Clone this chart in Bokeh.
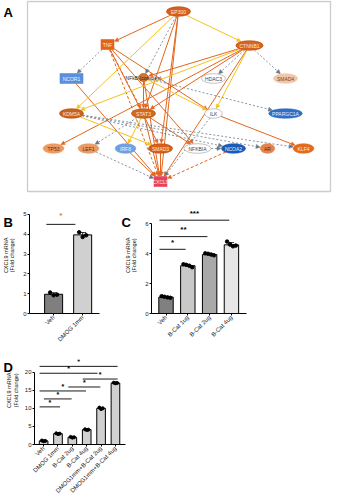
import math
from bokeh.plotting import figure
from bokeh.models import Range1d, FixedTicker, BoxAnnotation, Arrow, NormalHead, ColumnDataSource
from bokeh.layouts import column, row
from bokeh.embed import file_html
from bokeh.resources import INLINE
from bokeh.core.properties import value

FONT = "Liberation Sans"

# ---------------- Panel A: network data ----------------
node_names = ["EP300", "TNF", "CTNNB1", "NCOR1", "NFkB (complex)", "HDAC3", "SMAD4",
              "KDM5A", "STAT3", "ILK", "PPARGC1A",
              "TP53", "LEF1", "IRF8", "SMAD3", "NFKBIA", "NCOA2", "AR", "KLF4", "CXCL9"]
node_x = [178, 107, 249, 71, 143, 213, 285, 71, 143, 213, 285,
          53, 88, 125, 160, 197, 233, 267, 303, 160]
node_y = [11, 44, 45, 78, 77, 78, 78, 113, 113, 113, 113,
          148, 148, 148, 148, 148, 148, 148, 148, 181]
node_kind = ["ellipse", "rect", "ellipse", "rect", "small", "ellipse", "ellipse",
             "ellipse", "ellipse", "ellipse", "ellipse",
             "ellipse", "ellipse", "ellipse", "ellipse", "ellipse", "ellipse", "ellipse", "ellipse", "rect"]
node_fill = ["#d8601a", "#e0641c", "#d8651f", "#5b8fdc", "#d9732e", "#ffffff", "#f2c6a8",
             "#c8631f", "#d2691e", "#ffffff", "#2d6fc4",
             "#eb9a63", "#eb9a63", "#6fa0e0", "#d8601a", "#ffffff", "#1a5bb8", "#e6824a", "#e06b1e", "#e8435a"]
node_text_color = ["#ffe9d9", "#ffe9d9", "#ffe9d9", "#f0f4ff", "#222222", "#444444", "#6b4a35",
                   "#ffe9d9", "#ffe9d9", "#444444", "#e6efff",
                   "#5a2d10", "#5a2d10", "#f0f4ff", "#ffe9d9", "#444444", "#e6efff", "#5a2d10", "#ffe9d9", "#ffe9e9"]

edge_src = ["EP300", "EP300", "EP300", "EP300", "EP300", "EP300", "EP300",
            "TNF", "TNF", "TNF", "TNF", "TNF", "TNF",
            "CTNNB1", "CTNNB1", "CTNNB1", "CTNNB1", "CTNNB1", "CTNNB1", "CTNNB1", "CTNNB1",
            "NCOR1", "NFkB (complex)", "NFkB (complex)", "NFkB (complex)", "NFkB (complex)",
            "KDM5A", "KDM5A", "KDM5A", "KDM5A",
            "STAT3", "STAT3", "STAT3", "STAT3",
            "SMAD3", "ILK", "ILK", "LEF1", "IRF8", "NCOA2", "NFKBIA"]
edge_dst = ["TNF", "NFkB (complex)", "STAT3", "SMAD3", "CXCL9", "CTNNB1", "KDM5A",
            "NCOR1", "STAT3", "SMAD3", "ILK", "CXCL9", "NFKBIA",
            "HDAC3", "SMAD4", "NFkB (complex)", "STAT3", "ILK", "TP53", "CXCL9", "KDM5A",
            "CXCL9", "STAT3", "CXCL9", "PPARGC1A", "ILK",
            "NCOA2", "AR", "KLF4", "SMAD3",
            "IRF8", "LEF1", "CXCL9", "NFKBIA",
            "CXCL9", "KLF4", "CXCL9", "CXCL9", "CXCL9", "CXCL9", "NCOA2"]
edge_type = ["o", "g", "o", "o", "o", "y", "y",
             "g", "od", "o", "o", "od", "o",
             "g", "g", "o", "o", "y", "o", "o", "y",
             "o", "o", "o", "g", "y",
             "g", "g", "g", "y",
             "y", "g", "o", "o",
             "o", "o", "g", "g", "o", "od", "g"]

# ---------------- Panel B data ----------------
B_labels = ["Veh", "DMOG 1mm"]
B_means = [0.97, 3.97]
B_sd = [0.08, 0.12]
B_points = [[1.06, 0.92, 0.95], [4.1, 3.86, 3.95]]
B_sig = [(1, 2, 4.5, "*")]

# ---------------- Panel C data ----------------
C_labels = ["Veh", "B-Cat 1ug", "B-Cat 2ug", "B-Cat 4ug"]
C_means = [1.1, 3.2, 3.95, 4.6]
C_sd = [0.05, 0.08, 0.06, 0.15]
C_points = [[1.16, 1.12, 1.08, 1.05], [3.3, 3.26, 3.2, 3.1],
            [4.03, 4.0, 3.95, 3.9], [4.82, 4.62, 4.5, 4.55]]
C_sig = [(1, 2, 4.3, "*"), (1, 3, 5.15, "**"), (1, 4, 6.25, "***")]

# ---------------- Panel D data ----------------
D_labels = ["Veh", "DMOG 1mm", "B-Cat 2ug", "B-Cat 4ug",
            "DMOG1mm+B-Cat 2ug", "DMOG1mm+B-Cat 4ug"]
D_means = [1.0, 3.0, 2.0, 4.1, 10.0, 17.0]
D_sd = [0.2, 0.25, 0.2, 0.25, 0.3, 0.3]
D_points = [[1.1, 0.9, 1.0], [3.1, 2.9, 3.0], [2.1, 1.9, 2.0],
            [4.2, 4.0, 4.1], [10.2, 9.8, 10.0], [17.1, 16.9, 17.0]]
D_sig = [(1, 6, 21.6, "*"), (1, 4.6, 19.7, "*"), (4, 6, 18.1, "*"),
         (3, 4.8, 15.9, "*"), (1, 3.8, 14.8, "*"), (1.3, 2.8, 12.6, "*"), (1, 2, 10.4, "*")]

Y_LABEL = "CXCL9 mRNA\n(Fold change)"

# =============== Build Panel A ===============
pA = figure(width=360, height=196, x_range=Range1d(0, 360), y_range=Range1d(196, 0),
            min_border=0, toolbar_location=None, output_backend="svg",
            x_axis_location=None, y_axis_location=None)
pA.grid.visible = False
pA.outline_line_color = None
pA.background_fill_color = "white"
pA.add_layout(BoxAnnotation(left=27, right=330, top=1, bottom=191, fill_color=None,
                            fill_alpha=0, line_color="#555555", line_width=1.3))

def node_half(name, kind):
    if kind == "rect":
        if name == "NCOR1":
            return 11.5, 5
        return 6.5, 5
    if kind == "small":
        return 5, 4
    return (3.2 * len(name) + 8) / 2, 4.8

pos = {n: (x, y) for n, x, y in zip(node_names, node_x, node_y)}
kinds = dict(zip(node_names, node_kind))
halves = {n: node_half(n, k) for n, k in zip(node_names, node_kind)}

def boundary(n, ux, uy):
    a, b = halves[n]
    if kinds[n] == "rect":
        tx = a / abs(ux) if abs(ux) > 1e-9 else 1e9
        ty = b / abs(uy) if abs(uy) > 1e-9 else 1e9
        return min(tx, ty)
    return 1.0 / math.sqrt((ux / a) ** 2 + (uy / b) ** 2)

styles = {
    "o": dict(color="#e2661f", dash="solid", width=1.0),
    "od": dict(color="#e2661f", dash="3 2", width=1.0),
    "y": dict(color="#f4c21b", dash="solid", width=1.0),
    "g": dict(color="#6b7886", dash="2 2", width=0.8),
}
for st, sty in styles.items():
    d = dict(x0=[], y0=[], x1=[], y1=[])
    for s, t, et in zip(edge_src, edge_dst, edge_type):
        if et != st:
            continue
        sx, sy = pos[s]
        tx, ty = pos[t]
        dx, dy = tx - sx, ty - sy
        L = math.hypot(dx, dy)
        ux, uy = dx / L, dy / L
        ts = boundary(s, ux, uy)
        te = boundary(t, ux, uy) + 0.5
        d["x0"].append(sx + ux * ts)
        d["y0"].append(sy + uy * ts)
        d["x1"].append(tx - ux * te)
        d["y1"].append(ty - uy * te)
    src = ColumnDataSource(d)
    pA.add_layout(Arrow(source=src, x_start="x0", y_start="y0", x_end="x1", y_end="y1",
                        line_color=sty["color"], line_width=sty["width"], line_dash=sty["dash"],
                        level="underlay",
                        end=NormalHead(size=4, fill_color=sty["color"], line_color=sty["color"],
                                       line_width=0.5)))

ell_idx = [i for i, k in enumerate(node_kind) if k in ("ellipse", "small")]
rect_idx = [i for i, k in enumerate(node_kind) if k == "rect"]
def line_col(i):
    f = node_fill[i]
    if f == "#ffffff":
        return "#9a9a9a"
    if f.startswith("#d") or f.startswith("#c"):
        return "#b04a10"
    return f
pA.ellipse(x=[node_x[i] for i in ell_idx], y=[node_y[i] for i in ell_idx],
           width=[2 * halves[node_names[i]][0] for i in ell_idx],
           height=[2 * halves[node_names[i]][1] for i in ell_idx],
           fill_color=[node_fill[i] for i in ell_idx],
           line_color=[line_col(i) for i in ell_idx], line_width=0.6)
pA.rect(x=[node_x[i] for i in rect_idx], y=[node_y[i] for i in rect_idx],
        width=[2 * halves[node_names[i]][0] for i in rect_idx],
        height=[2 * halves[node_names[i]][1] for i in rect_idx],
        fill_color=[node_fill[i] for i in rect_idx],
        line_color=[node_fill[i] for i in rect_idx], line_width=0.6)
pA.text(x=node_x, y=node_y, text=node_names, text_align="center", text_baseline="middle",
        text_font=value(FONT), text_font_size="5px", text_color=node_text_color)
pA.text(x=[3], y=[4], text=["A"], text_align="left", text_baseline="top",
        text_font=value(FONT), text_font_size="13px", text_font_style="bold", text_color="black")

# =============== helpers ===============
def side_fig(txt, w, h, tx, ty, lx, ly):
    """Narrow strip left of a bar panel: panel letter and the y-axis title."""
    f = figure(width=w, height=h, x_range=Range1d(0, w), y_range=Range1d(h, 0),
               min_border=0, toolbar_location=None, output_backend="svg",
               x_axis_location=None, y_axis_location=None)
    f.grid.visible = False
    f.outline_line_color = None
    f.text(x=[tx], y=[ty], text=[txt], text_align="left", text_baseline="top",
           text_font=value(FONT), text_font_size="13px", text_font_style="bold", text_color="black")
    f.text(x=[lx], y=[ly], text=[Y_LABEL], angle=math.pi / 2, text_align="center",
           text_baseline="middle", text_font=value(FONT), text_font_size="5.5px",
           text_color="#222222", text_line_height=1.1)
    return f

def style_axes(p, yticks, ybounds):
    p.grid.visible = False
    p.outline_line_color = None
    p.yaxis.ticker = FixedTicker(ticks=yticks)
    p.yaxis.bounds = ybounds
    for ax in (p.xaxis[0], p.yaxis[0]):
        ax.axis_line_color = "black"
        ax.axis_line_width = 1
        ax.major_tick_line_color = "black"
        ax.major_tick_out = 2
        ax.major_tick_in = 0
        ax.minor_tick_out = 0
        ax.minor_tick_in = 0
        ax.major_label_text_font = FONT
        ax.major_label_text_color = "#222222"
        ax.major_label_standoff = 1
    p.yaxis.major_label_text_font_size = "6px"
    p.xaxis.major_label_text_font_size = "6px"
    p.xaxis.major_label_orientation = math.pi / 4

def bars(p, labels, means, sds, points, colors, bw, offs, psize, cap):
    xs = list(range(1, len(labels) + 1))
    p.xaxis.ticker = FixedTicker(ticks=xs)
    p.xaxis.major_label_overrides = {x: lab for x, lab in zip(xs, labels)}
    p.vbar(x=xs, top=means, width=bw, bottom=0, fill_color=colors, line_color="black", line_width=1)
    p.segment(x0=xs, x1=xs, y0=[m - s for m, s in zip(means, sds)],
              y1=[m + s for m, s in zip(means, sds)], line_color="black", line_width=0.8)
    p.segment(x0=[x - cap for x in xs], x1=[x + cap for x in xs],
              y0=[m + s for m, s in zip(means, sds)], y1=[m + s for m, s in zip(means, sds)],
              line_color="black", line_width=0.8)
    px, py = [], []
    for x, pts in zip(xs, points):
        for j, v in enumerate(pts):
            px.append(x + offs[j % len(offs)])
            py.append(v)
    p.scatter(x=px, y=py, size=psize, fill_color="black", line_color="black")

def sig(p, sigs, x0pad, x1pad, color, fs, star_dy):
    x0 = [s[0] - x0pad for s in sigs]
    x1 = [s[1] + x1pad for s in sigs]
    ys = [s[2] for s in sigs]
    p.segment(x0=x0, x1=x1, y0=ys, y1=ys, line_color="black", line_width=0.9)
    p.text(x=[(a + b) / 2 for a, b in zip(x0, x1)], y=[y + star_dy for y in ys],
           text=[s[3] for s in sigs], text_align="center", text_baseline="middle",
           text_font=value(FONT), text_font_size=fs, text_color=color, text_font_style="bold")

# Panel B  (strip 0..15, canvas 15..120, frame x 30..100, y 210..313)
lB = side_fig("B", 15, 156, 3, 7, 8.5, 68)
pB = figure(width=105, height=156, x_range=Range1d(0.17, 2.58), y_range=Range1d(0, 5.2),
            min_border_left=14, min_border_right=21, min_border_top=14, min_border_bottom=39,
            toolbar_location=None, output_backend="svg")
style_axes(pB, [0, 1, 2, 3, 4, 5], (0, 5))
bars(pB, B_labels, B_means, B_sd, B_points, ["#7f7f7f", "#d0d0d0"], 0.62,
     [-0.12, 0.0, 0.12], 3.5, 0.12)
sig(pB, B_sig, 0.25, -0.25, "#e07b39", "8px", 0.45)

# Panel C  (strip 120..137, canvas 137..360, frame x 151..246, y 204..316)
lC = side_fig("C", 17, 156, 1, 7, 10.5, 68)
pC = figure(width=223, height=156, x_range=Range1d(0.335, 4.69), y_range=Range1d(0, 6.9),
            min_border_left=14, min_border_right=114, min_border_top=8, min_border_bottom=36,
            toolbar_location=None, output_backend="svg")
style_axes(pC, [0, 2, 4, 6], (0, 6))
bars(pC, C_labels, C_means, C_sd, C_points, ["#808080", "#c8c8c8", "#a9a9a9", "#e6e6e6"], 0.66,
     [-0.2, -0.07, 0.07, 0.2], 3.5, 0.12)
sig(pC, C_sig, 0.3, -0.1, "black", "8px", 0.45)

# Panel D  (strip 0..19, canvas 19..144, frame x 35..125, y 359..445)
lD = side_fig("D", 19, 146, 3, 1, 12, 53)
pD = figure(width=125, height=146, x_range=Range1d(0.366, 6.7), y_range=Range1d(0, 23.5),
            min_border_left=15, min_border_right=19, min_border_top=7, min_border_bottom=53,
            toolbar_location=None, output_backend="svg")
style_axes(pD, [0, 5, 10, 15, 20], (0, 20))
bars(pD, D_labels, D_means, D_sd, D_points, ["#d0d0d0"] * 6, 0.6,
     [-0.12, 0.0, 0.12], 3.0, 0.15)
sig(pD, D_sig, 0.28, 0.15, "black", "7px", 1.3)

layout = column(pA, row(lB, pB, lC, pC), row(lD, pD))
open("out.html", "w").write(file_html(layout, INLINE))
